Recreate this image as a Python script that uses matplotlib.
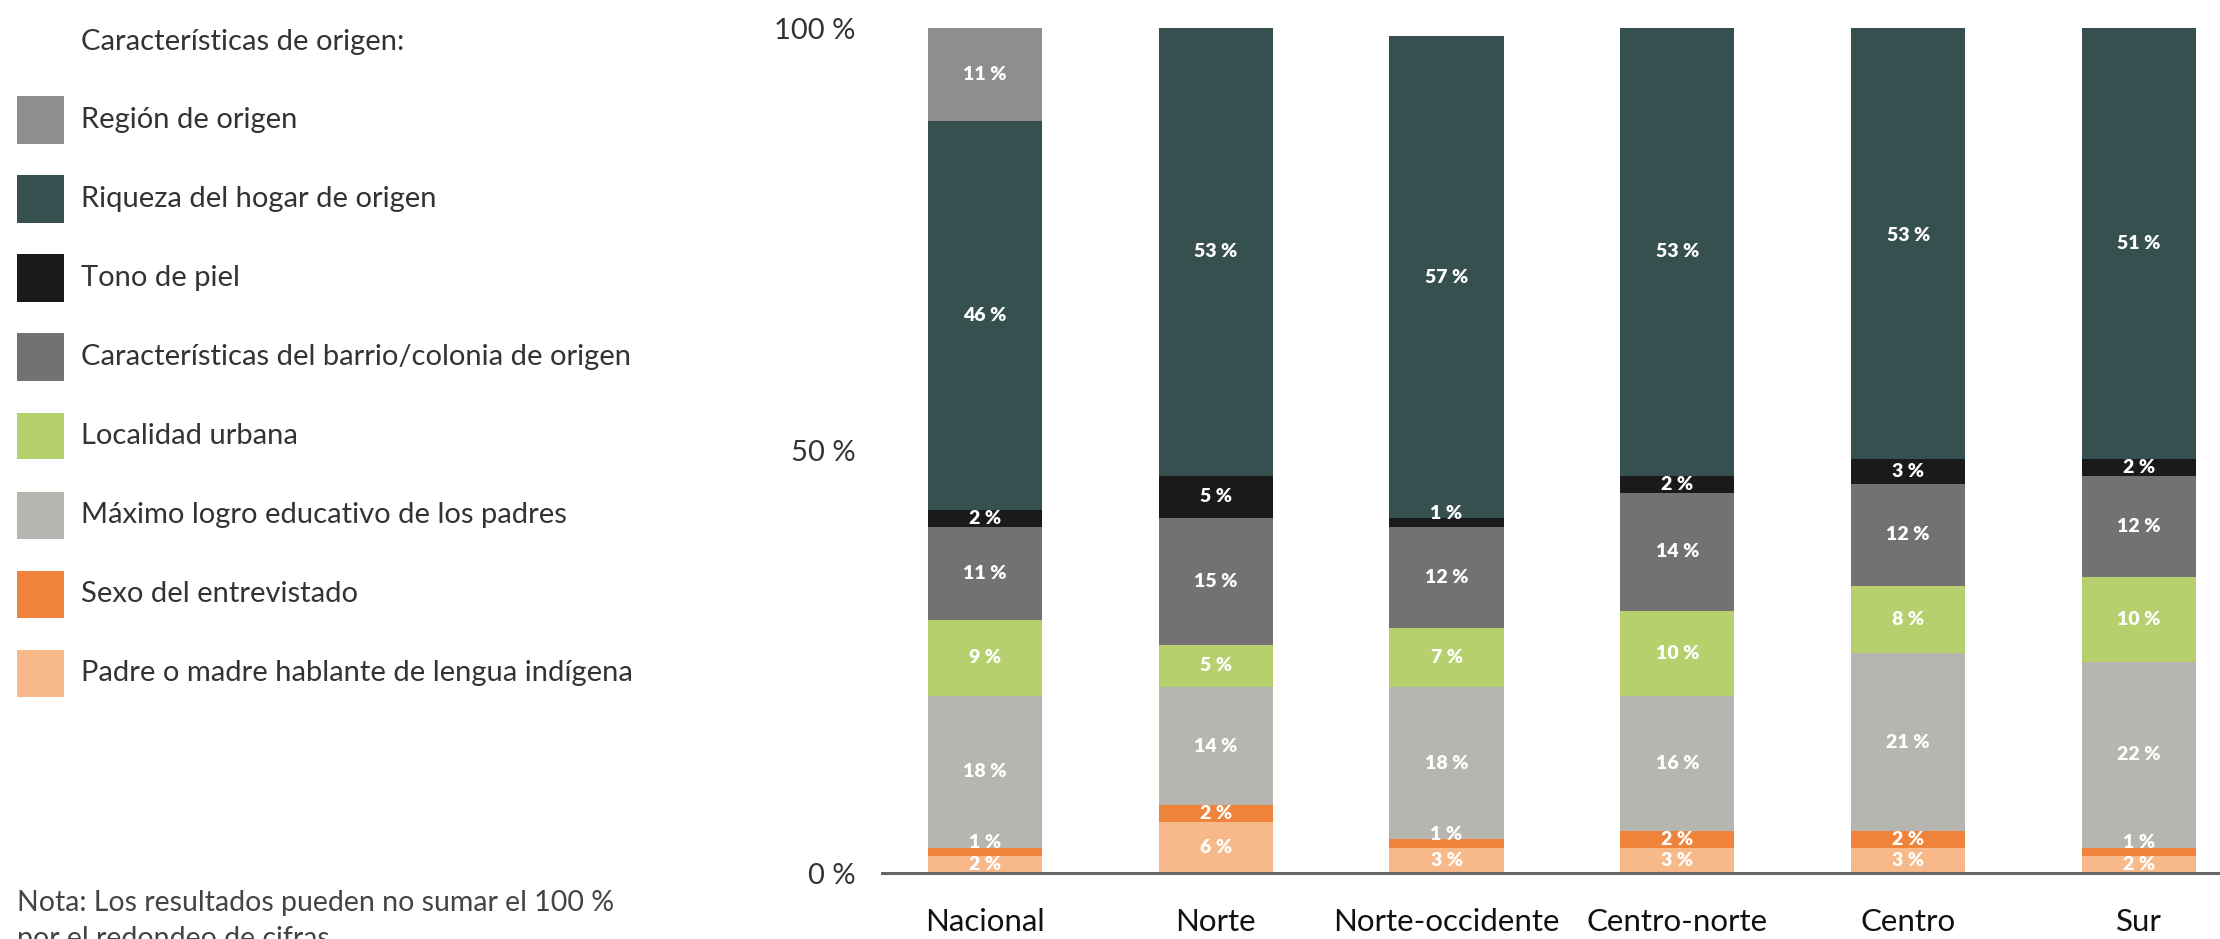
import matplotlib
matplotlib.use('Agg')
import matplotlib.pyplot as plt
from matplotlib.patches import Rectangle
import numpy as np

# ── Data (shares in %, stacked bottom → top) ───────────────────────────────────
regiones = ['Nacional', 'Norte', 'Norte-occidente', 'Centro-norte', 'Centro', 'Sur']

padre_indigena   = [2, 6, 3, 3, 3, 2]
sexo             = [1, 2, 1, 2, 2, 1]
educ_padres      = [18, 14, 18, 16, 21, 22]
localidad_urbana = [9, 5, 7, 10, 8, 10]
barrio           = [11, 15, 12, 14, 12, 12]
tono_piel        = [2, 5, 1, 2, 3, 2]
riqueza          = [46, 53, 57, 53, 53, 51]
region_origen    = [11, 0, 0, 0, 0, 0]

etiquetas = [
    'Padre o madre hablante de lengua indígena',
    'Sexo del entrevistado',
    'Máximo logro educativo de los padres',
    'Localidad urbana',
    'Características del barrio/colonia de origen',
    'Tono de piel',
    'Riqueza del hogar de origen',
    'Región de origen',
]
series = [padre_indigena, sexo, educ_padres, localidad_urbana,
          barrio, tono_piel, riqueza, region_origen]

colores = ['#f7b98a', '#ef833a', '#b6b5b0', '#b5d06c',
           '#737172', '#1a1a1a', '#36504f', '#8f8e8c']

y_ticks = [0, 50, 100]
y_ticklabels = ['0 %', '50 %', '100 %']

leyenda_titulo = 'Características de origen:'
nota = ['Nota: Los resultados pueden no sumar el 100 %',
        'por el redondeo de cifras.']

# ── Style ──────────────────────────────────────────────────────────────────────
FONT = ['Lato', 'DejaVu Sans']
TEXT_C = '#333333'
plt.rcParams['font.family'] = FONT

W, H = 2220, 939
fig = plt.figure(figsize=(W / 100, H / 100), dpi=100)
ax = fig.add_axes([882 / W, 1 - 873 / H, 1 - 882 / W, (873 - 28) / H])

x = np.arange(len(regiones))
bottom = np.zeros(len(regiones))
for vals, col in zip(series, colores):
    vals = np.array(vals, dtype=float)
    ax.bar(x, vals, 0.495, bottom=bottom, color=col, linewidth=0, zorder=2)
    for xi, b, v in zip(x, bottom, vals):
        if v <= 0:
            continue
        # tiny segments get their label lifted just above the slice
        yc = b + v + 0.6 if v <= 1 else b + v / 2
        ax.text(xi, yc, f'{int(v)} %', ha='center', va='center',
                color='white', fontsize=14, fontweight='heavy', zorder=4)
    bottom += vals

ax.set_xlim(-0.446, 5.351)
ax.set_ylim(0, 100)
ax.set_yticks(y_ticks)
ax.set_yticklabels(y_ticklabels)
ax.set_xticks(x)
ax.set_xticklabels(regiones)
ax.tick_params(axis='y', length=0, pad=19, labelsize=21, labelcolor=TEXT_C)
ax.tick_params(axis='x', length=0, pad=25, labelsize=22.5, labelcolor='#111111')

for s in ('top', 'right', 'left'):
    ax.spines[s].set_visible(False)
ax.spines['bottom'].set_color('#666666')
ax.spines['bottom'].set_linewidth(2.2)
ax.spines['bottom'].set_zorder(3)

# ── Legend (top → bottom, reverse of stacking order) ───────────────────────────
fig.text(81 / W, 1 - 42 / H, leyenda_titulo, ha='left', va='center',
         fontsize=21, color=TEXT_C)
sq = 47
for i, (lab, col) in enumerate(zip(etiquetas[::-1], colores[::-1])):
    yc = 120 + 79 * i
    fig.add_artist(Rectangle((17 / W, 1 - (yc + sq / 2) / H), sq / W, sq / H,
                             transform=fig.transFigure, facecolor=col,
                             linewidth=0))
    fig.text(81 / W, 1 - yc / H, lab, ha='left', va='center',
             fontsize=21, color=TEXT_C)

# footnote: second line runs off the bottom edge
for j, linea in enumerate(nota):
    fig.text(17 / W, 1 - (911 + 36 * j) / H, linea, ha='left', va='baseline',
             fontsize=20.5, color='#444444')

fig.savefig('out.png', dpi=100)
